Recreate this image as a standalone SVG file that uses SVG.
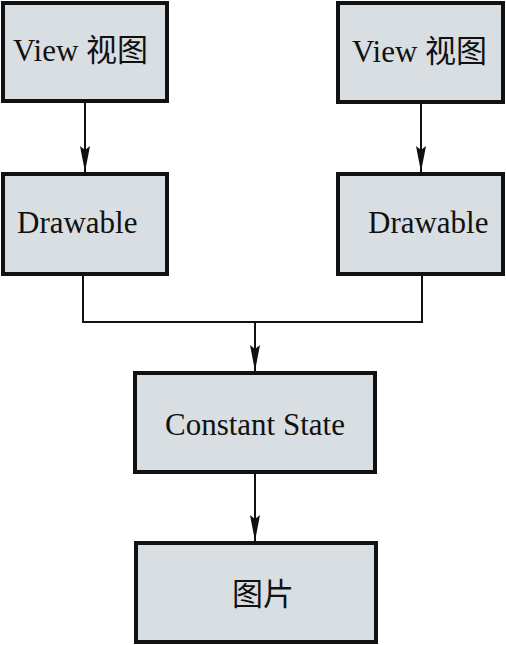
<svg xmlns="http://www.w3.org/2000/svg" width="506" height="645" viewBox="0 0 506 645">
<style>
.box{fill:#d9dee2;stroke:#111;stroke-width:4}
.lbl{font-family:"Liberation Serif","Noto Sans CJK SC",serif;font-size:31px;fill:#111}
.con{fill:none;stroke:#111;stroke-width:2}
</style>
<defs>
<marker id="ah" markerUnits="userSpaceOnUse" markerWidth="27" markerHeight="11" refX="26" refY="5" orient="auto" viewBox="0 0 27 11">
<path d="M0,0 L26,5 L0,10 L4,5 Z" fill="#111"/>
</marker>
</defs>
<rect width="506" height="645" fill="#fff"/>
<g id="connectors">
<line class="con" x1="85" y1="102" x2="85" y2="172" marker-end="url(#ah)"/>
<line class="con" x1="421" y1="103" x2="421" y2="172" marker-end="url(#ah)"/>
<polyline class="con" points="83,276 83,322 422,322 422,276"/>
<line class="con" x1="255" y1="322" x2="255" y2="371" marker-end="url(#ah)"/>
<line class="con" x1="255" y1="473" x2="255" y2="541" marker-end="url(#ah)"/>
</g>
<g id="view1"><rect class="box" x="3" y="3" width="164" height="98"/><text class="lbl" x="13" y="61">View 视图</text></g>
<g id="view2"><rect class="box" x="338" y="3" width="165" height="99"/><text class="lbl" x="352" y="62">View 视图</text></g>
<g id="drawable1"><rect class="box" x="3" y="174" width="164" height="100"/><text class="lbl" x="17" y="233">Drawable</text></g>
<g id="drawable2"><rect class="box" x="338" y="174" width="165" height="100"/><text class="lbl" x="368" y="233">Drawable</text></g>
<g id="constant"><rect class="box" x="135" y="373" width="240" height="99"/><text class="lbl" x="165" y="435">Constant State</text></g>
<g id="image"><rect class="box" x="136" y="543" width="240" height="99"/><text class="lbl" x="232" y="605">图片</text></g>
</svg>
